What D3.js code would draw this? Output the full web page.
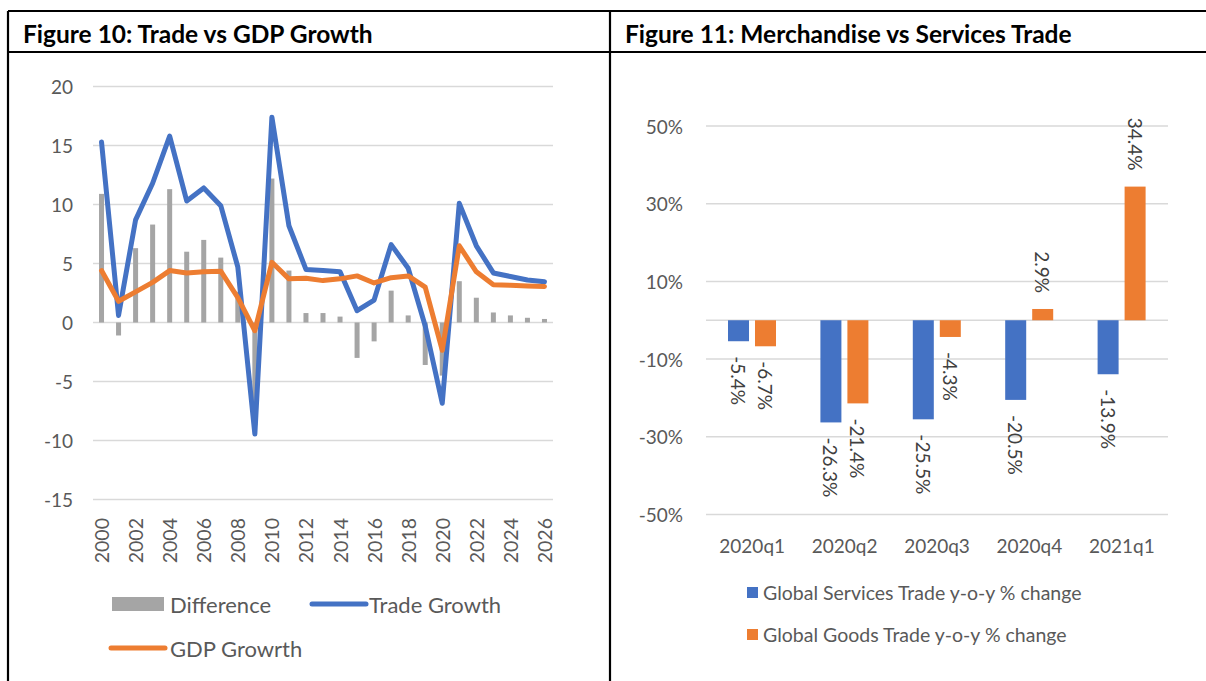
<!DOCTYPE html>
<html>
<head>
<meta charset="utf-8">
<script src="https://cdn.jsdelivr.net/npm/d3@7"></script>
<style>
  body { margin: 0; background: #fff; }
  text { font-family: Lato, "Open Sans", sans-serif; }
</style>
</head>
<body>
<div id="chart"></div>
<script>
// Figure 10 data
const years = d3.range(2000, 2027);
const tradeGrowth = [15.3, 0.6, 8.7, 11.8, 15.8, 10.3, 11.4, 9.9, 4.7, -9.45, 17.4, 8.2, 4.5, 4.4, 4.3, 1.0, 1.9, 6.6, 4.6, -0.3, -6.85, 10.1, 6.5, 4.2, 3.9, 3.6, 3.45];
const gdpGrowth = [4.4, 1.8, 2.6, 3.4, 4.4, 4.2, 4.3, 4.35, 2.1, -0.7, 5.1, 3.7, 3.75, 3.55, 3.7, 3.95, 3.35, 3.8, 3.95, 3.0, -2.35, 6.5, 4.3, 3.2, 3.15, 3.1, 3.05];
const difference = [10.9, -1.1, 6.3, 8.3, 11.3, 6.0, 7.0, 5.5, 2.6, -8.7, 12.2, 4.4, 0.8, 0.8, 0.5, -3.0, -1.6, 2.7, 0.6, -3.6, -4.5, 3.5, 2.1, 0.85, 0.6, 0.4, 0.3];
const leftTicks = [-15, -10, -5, 0, 5, 10, 15, 20];
const yearTicks = d3.range(2000, 2027, 2);

// Figure 11 data
const quarters = ["2020q1", "2020q2", "2020q3", "2020q4", "2021q1"];
const servicesTrade = [-5.4, -26.3, -25.5, -20.5, -13.9];
const goodsTrade = [-6.7, -21.4, -4.3, 2.9, 34.4];
const rightTicks = [-50, -30, -10, 10, 30, 50];

const blue = "#4472c4", orange = "#ed7d31", gray = "#a5a5a5";
const gridColor = "#d9d9d9", labelColor = "#595959";

const svg = d3.select("#chart").append("svg").attr("width", 1206).attr("height", 681);

// table frame
const frame = svg.append("g").attr("stroke", "#000").attr("stroke-width", 2.2);
frame.append("line").attr("x1", 8).attr("x2", 1206).attr("y1", 11).attr("y2", 11);
frame.append("line").attr("x1", 8).attr("x2", 1206).attr("y1", 52).attr("y2", 52);
frame.append("line").attr("x1", 8).attr("x2", 8).attr("y1", 11).attr("y2", 681);
frame.append("line").attr("x1", 610).attr("x2", 610).attr("y1", 11).attr("y2", 681);

svg.append("text").attr("x", 23).attr("y", 33).attr("dominant-baseline", "central")
  .attr("font-size", 24.5).attr("font-weight", "bold").attr("fill", "#000")
  .text("Figure 10: Trade vs GDP Growth");
svg.append("text").attr("x", 625).attr("y", 33).attr("dominant-baseline", "central")
  .attr("font-size", 24.5).attr("font-weight", "bold").attr("fill", "#000")
  .text("Figure 11: Merchandise vs Services Trade");

// ---------- Figure 10 ----------
const x = d3.scaleBand().domain(years).range([93, 553]);
const y = d3.scaleLinear().domain([-15, 20]).range([499.5, 86.5]);

const left = svg.append("g");
left.selectAll(".grid").data(leftTicks).join("line")
  .attr("x1", 93).attr("x2", 553)
  .attr("y1", d => y(d)).attr("y2", d => y(d))
  .attr("stroke", gridColor).attr("stroke-width", 1.5);

left.selectAll(".ylab").data(leftTicks).join("text")
  .attr("x", 73).attr("y", d => y(d))
  .attr("text-anchor", "end").attr("dominant-baseline", "central")
  .attr("font-size", 19).attr("fill", labelColor)
  .text(d => d);

left.selectAll(".xlab").data(yearTicks).join("text")
  .attr("transform", d => `translate(${x(d) + x.bandwidth() / 2},518) rotate(-90)`)
  .attr("text-anchor", "end").attr("dominant-baseline", "central")
  .attr("font-size", 19.5).attr("fill", labelColor)
  .text(d => d);

const barW = 5;
left.selectAll(".diff").data(difference).join("rect")
  .attr("x", (d, i) => x(years[i]) + x.bandwidth() / 2 - barW / 2)
  .attr("width", barW)
  .attr("y", d => y(Math.max(0, d)))
  .attr("height", d => Math.abs(y(d) - y(0)))
  .attr("fill", gray);

const line = d3.line()
  .x((d, i) => x(years[i]) + x.bandwidth() / 2)
  .y(d => y(d));

left.append("path").datum(tradeGrowth).attr("d", line)
  .attr("fill", "none").attr("stroke", blue).attr("stroke-width", 5)
  .attr("stroke-linejoin", "round").attr("stroke-linecap", "round");
left.append("path").datum(gdpGrowth).attr("d", line)
  .attr("fill", "none").attr("stroke", orange).attr("stroke-width", 5)
  .attr("stroke-linejoin", "round").attr("stroke-linecap", "round");

// legend
const lg = svg.append("g").attr("font-size", 22).attr("fill", labelColor);
lg.append("rect").attr("x", 112).attr("y", 597).attr("width", 52).attr("height", 14).attr("fill", gray);
lg.append("text").attr("x", 170).attr("y", 604).attr("dominant-baseline", "central").text("Difference");
lg.append("line").attr("x1", 312).attr("x2", 366).attr("y1", 604).attr("y2", 604)
  .attr("stroke", blue).attr("stroke-width", 5).attr("stroke-linecap", "round");
lg.append("text").attr("x", 369).attr("y", 604).attr("dominant-baseline", "central").text("Trade Growth");
lg.append("line").attr("x1", 111).attr("x2", 165).attr("y1", 648).attr("y2", 648)
  .attr("stroke", orange).attr("stroke-width", 5).attr("stroke-linecap", "round");
lg.append("text").attr("x", 170).attr("y", 648).attr("dominant-baseline", "central").text("GDP Growrth");

// ---------- Figure 11 ----------
const x0 = d3.scaleBand().domain(quarters).range([706, 1168]);
const x1 = d3.scaleBand().domain(["services", "goods"]).range([22, 70]).paddingInner(0.222);
const y2 = d3.scaleLinear().domain([-50, 50]).range([514.5, 126]);

const right = svg.append("g");
right.selectAll(".grid").data(rightTicks.concat([0])).join("line")
  .attr("x1", 706).attr("x2", 1168)
  .attr("y1", d => y2(d)).attr("y2", d => y2(d))
  .attr("stroke", gridColor).attr("stroke-width", 1.5);

right.selectAll(".ylab").data(rightTicks).join("text")
  .attr("x", 683).attr("y", d => y2(d))
  .attr("text-anchor", "end").attr("dominant-baseline", "central")
  .attr("font-size", 19).attr("fill", labelColor)
  .text(d => d + "%");

right.selectAll(".xlab").data(quarters).join("text")
  .attr("x", d => x0(d) + x0.bandwidth() / 2).attr("y", 545)
  .attr("text-anchor", "middle").attr("dominant-baseline", "central")
  .attr("font-size", 19).attr("fill", labelColor)
  .text(d => d);

const series = [
  { key: "services", values: servicesTrade, color: blue },
  { key: "goods", values: goodsTrade, color: orange }
];

series.forEach(s => {
  const g = right.append("g");
  g.selectAll("rect").data(s.values).join("rect")
    .attr("x", (d, i) => x0(quarters[i]) + x1(s.key))
    .attr("width", x1.bandwidth())
    .attr("y", d => y2(Math.max(0, d)))
    .attr("height", d => Math.abs(y2(d) - y2(0)))
    .attr("fill", s.color);
  g.selectAll("text").data(s.values).join("text")
    .attr("transform", (d, i) => {
      const cx = x0(quarters[i]) + x1(s.key) + x1.bandwidth() / 2;
      const cy = d < 0 ? y2(d) + 15 : y2(d) - 16;
      return `translate(${cx},${cy}) rotate(90)`;
    })
    .attr("text-anchor", d => d < 0 ? "start" : "end")
    .attr("dominant-baseline", "central")
    .attr("font-size", 19).attr("fill", "#404040")
    .text(d => d.toFixed(1) + "%");
});

const rl = svg.append("g").attr("font-size", 19.5).attr("fill", labelColor);
series.forEach((s, i) => {
  const cy = 592 + i * 42;
  rl.append("rect").attr("x", 747).attr("y", cy - 5).attr("width", 11).attr("height", 11).attr("fill", s.color);
  rl.append("text").attr("x", 763).attr("y", cy).attr("dominant-baseline", "central")
    .text(i === 0 ? "Global Services Trade y-o-y % change" : "Global Goods Trade y-o-y % change");
});
</script>
</body>
</html>
